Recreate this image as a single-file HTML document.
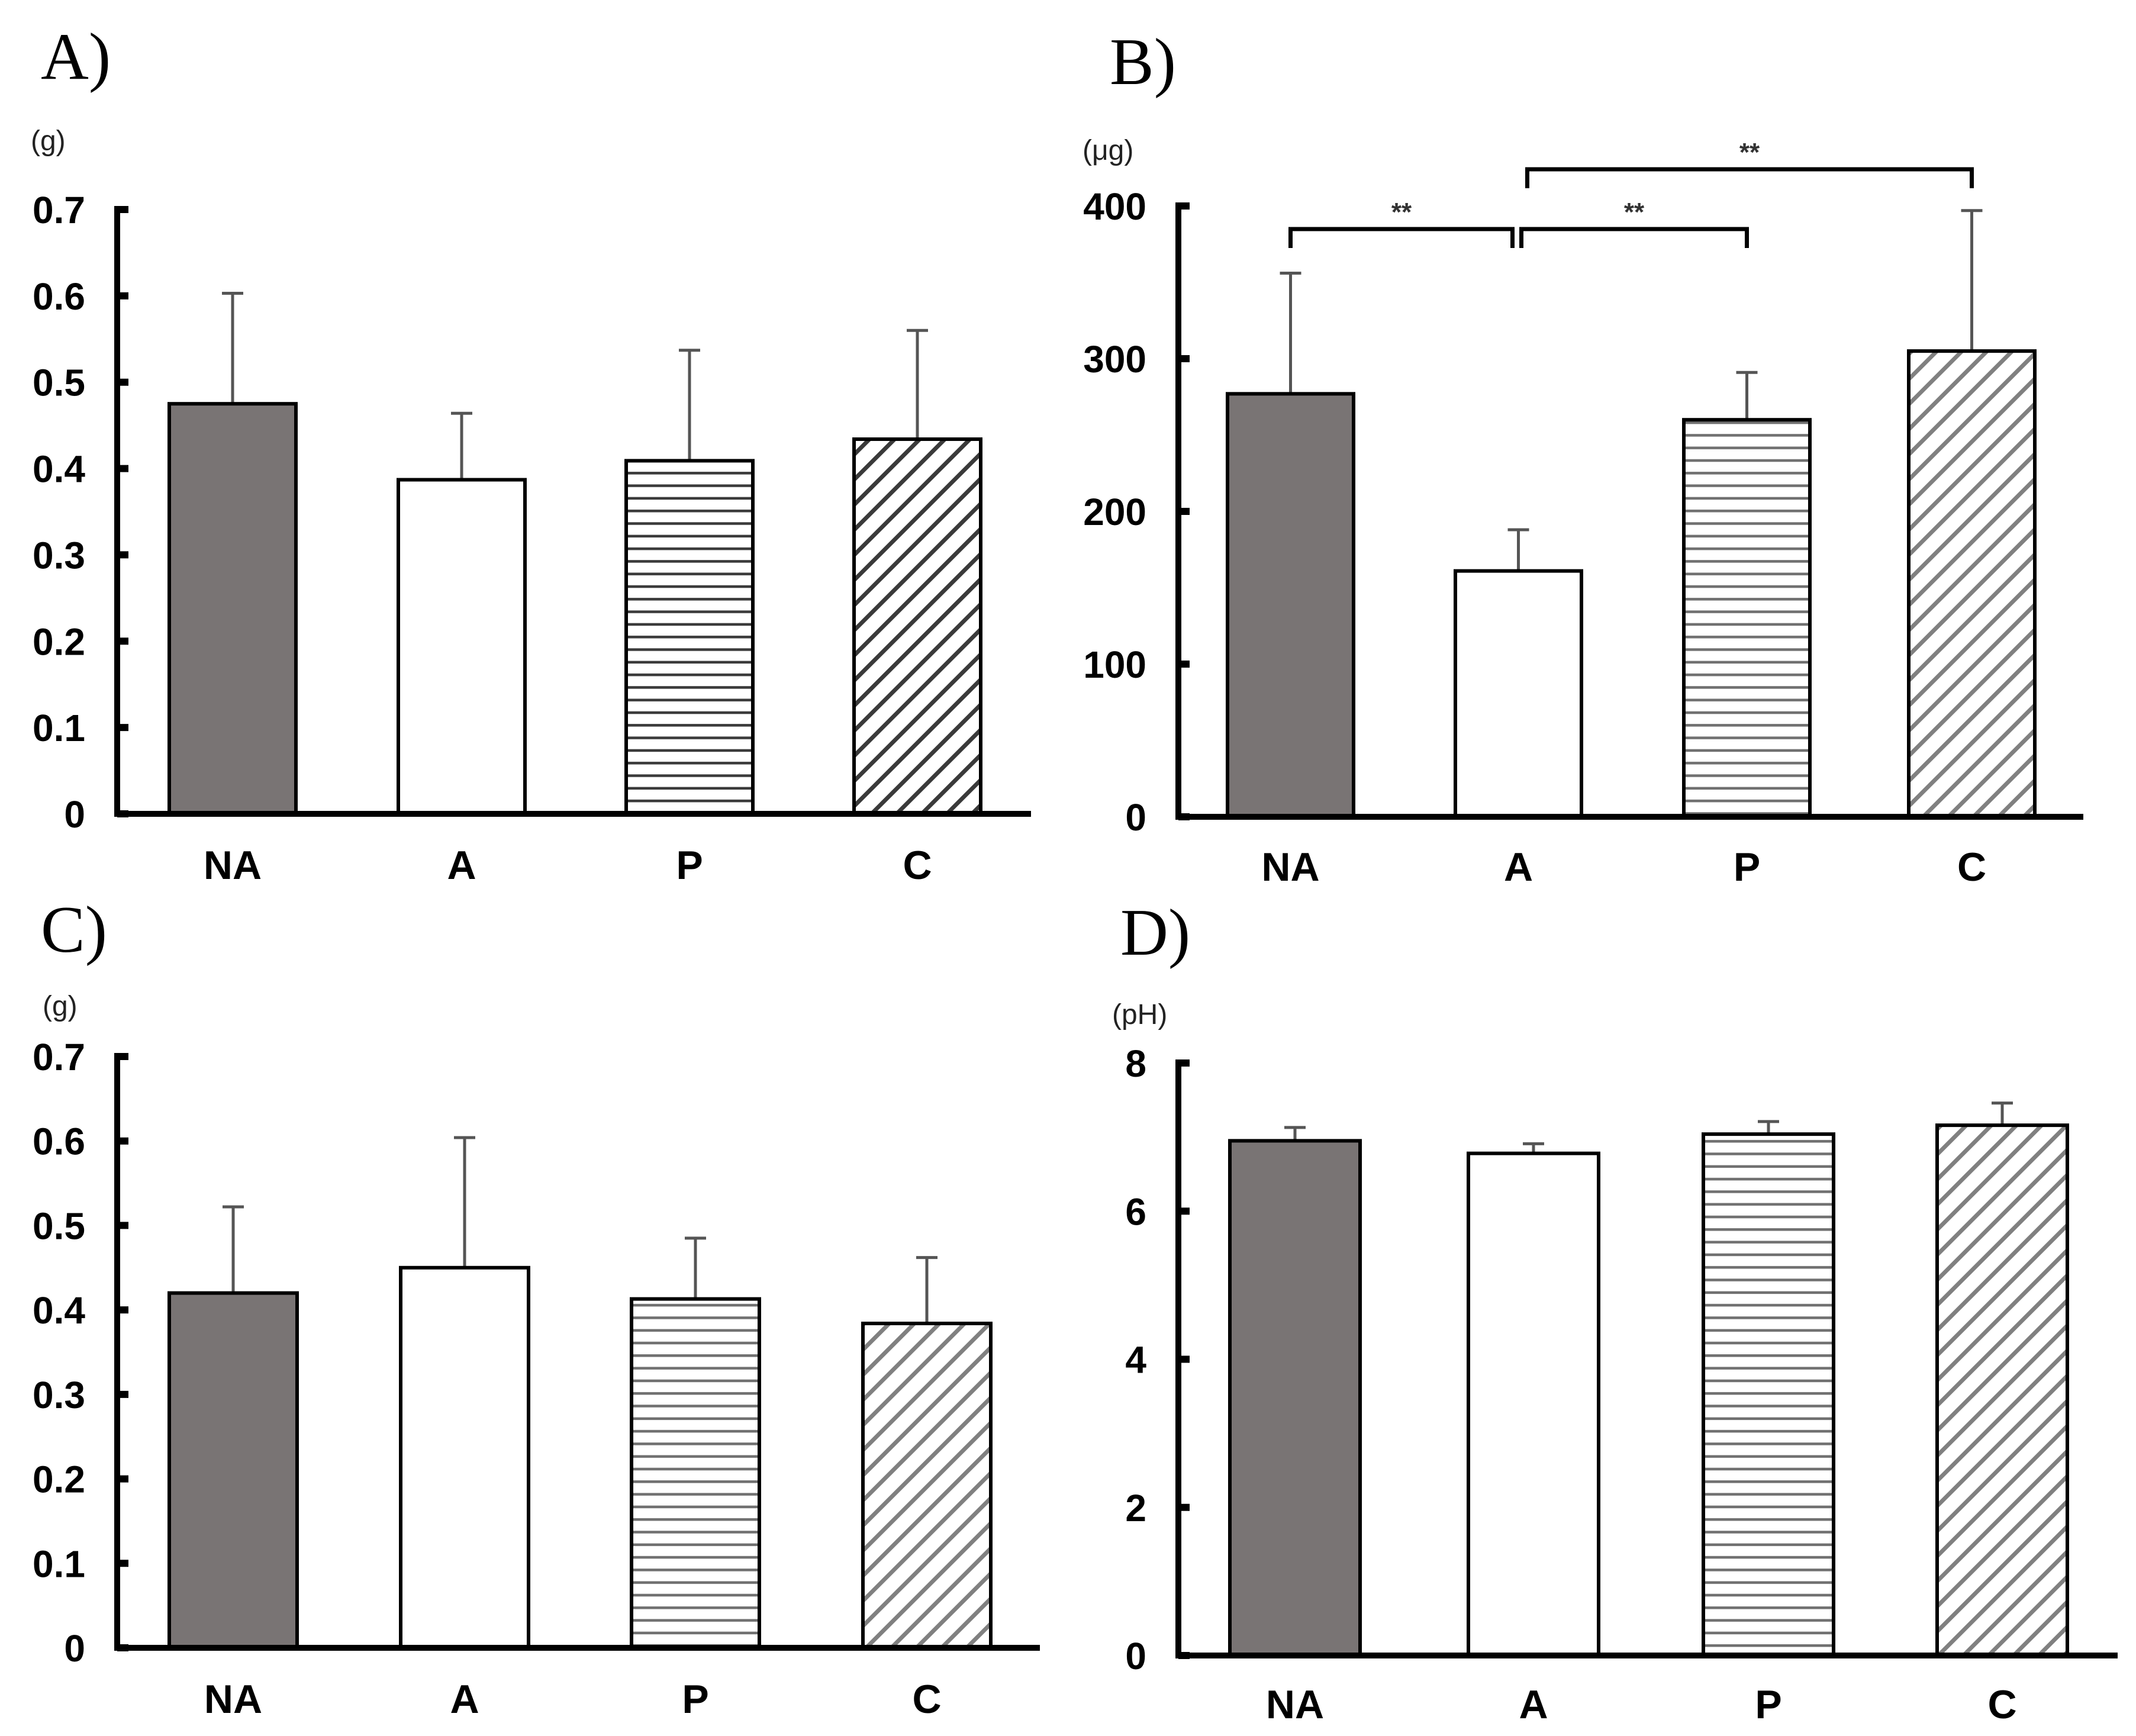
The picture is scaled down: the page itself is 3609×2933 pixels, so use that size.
<!DOCTYPE html>
<html><head><meta charset="utf-8">
<style>
html,body{margin:0;padding:0;background:#fff;}
svg{display:block;}
text{font-family:"Liberation Sans","Noto Sans CJK JP",sans-serif;}
</style></head>
<body>
<svg id="fig" xmlns="http://www.w3.org/2000/svg" width="3609" height="2933" viewBox="0 0 3609 2933">
<defs>
<pattern id="hA" patternUnits="userSpaceOnUse" width="40" height="21.3"><rect x="0" y="9" width="40" height="4.5" fill="#3a3a3a"/></pattern>
<pattern id="hG" patternUnits="userSpaceOnUse" width="40" height="21.3"><rect x="0" y="9" width="40" height="4.5" fill="#707070"/></pattern>
<pattern id="dA" patternUnits="userSpaceOnUse" width="30" height="30" patternTransform="rotate(45)"><rect x="0" y="0" width="7" height="30" fill="#3a3a3a"/></pattern>
<pattern id="dG" patternUnits="userSpaceOnUse" width="30" height="30" patternTransform="rotate(45)"><rect x="0" y="0" width="7" height="30" fill="#808080"/></pattern>
</defs>
</svg>
<script>
const categories = ["NA","A","P","C"];
const valuesA = [0.475, 0.387, 0.409, 0.434];
const errTopA = [0.603, 0.464, 0.537, 0.560];
const ticksA = [0,0.1,0.2,0.3,0.4,0.5,0.6,0.7];
const tickLabelsA = ["0","0.1","0.2","0.3","0.4","0.5","0.6","0.7"];
const valuesB = [277, 161, 260, 305];
const errTopB = [356, 188, 291, 397];
const ticksB = [0,100,200,300,400];
const tickLabelsB = ["0","100","200","300","400"];
const valuesC = [0.420, 0.450, 0.413, 0.384];
const errTopC = [0.522, 0.604, 0.485, 0.462];
const ticksC = [0,0.1,0.2,0.3,0.4,0.5,0.6,0.7];
const tickLabelsC = ["0","0.1","0.2","0.3","0.4","0.5","0.6","0.7"];
const valuesD = [6.95, 6.78, 7.04, 7.16];
const errTopD = [7.13, 6.91, 7.21, 7.46];
const ticksD = [0,2,4,6,8];
const tickLabelsD = ["0","2","4","6","8"];
const sigPairsB = [[0,1],[1,2],[1,3]];
const sigLabelsB = ["**","**","**"];

const NS="http://www.w3.org/2000/svg";
const svg=document.getElementById('fig');
function mk(tag,attrs,parent){const e=document.createElementNS(NS,tag);for(const k in attrs)e.setAttribute(k,attrs[k]);(parent||svg).appendChild(e);return e;}

const panels=[
 {id:'a',title:'A)',unit:'(g)',vals:valuesA,errs:errTopA,ticks:ticksA,tl:tickLabelsA,max:0.7,
  ax:198,top:354,zero:1375,xend:1742,bars:[286,673,1058,1443],bw:214,fills:['#797474','#fff','url(#hA)','url(#dA)'],
  tx:69,ty:133,ux:52,uy:254,ly:1485},
 {id:'b',title:'B)',unit:'(μg)',vals:valuesB,errs:errTopB,ticks:ticksB,tl:tickLabelsB,max:400,
  ax:1991,top:348,zero:1380,xend:3520,bars:[2074,2459,2845,3225],bw:213,fills:['#797474','#fff','url(#hG)','url(#dG)'],
  tx:1875,ty:142,ux:1829,uy:270,ly:1488},
 {id:'c',title:'C)',unit:'(g)',vals:valuesC,errs:errTopC,ticks:ticksC,tl:tickLabelsC,max:0.7,
  ax:198,top:1785,zero:2784,xend:1757,bars:[286,677,1067,1458],bw:216,fills:['#797474','#fff','url(#hG)','url(#dG)'],
  tx:69,ty:1608,ux:72,uy:1716,ly:2894},
 {id:'d',title:'D)',unit:'(pH)',vals:valuesD,errs:errTopD,ticks:ticksD,tl:tickLabelsD,max:8,
  ax:1991,top:1796,zero:2797,xend:3578,bars:[2078,2481,2878,3273],bw:220,fills:['#797474','#fff','url(#hG)','url(#dG)'],
  tx:1893,ty:1613,ux:1879,uy:1730,ly:2903}
];

panels.forEach(p=>{
  const g=mk('g',{});
  
  
  const y=v=>p.zero-(v/p.max)*(p.zero-p.top);
  const t=mk('text',{x:p.tx,y:p.ty,'font-size':112,fill:'#000',style:'font-family:"Liberation Serif",serif'},g);
  t.textContent=p.title;
  
  
  const u=mk('text',{x:p.ux,y:p.uy,'font-size':48,fill:'#222'},g);
  u.textContent=p.unit;
  
  
  p.vals.forEach((v,i)=>{
    const x=p.bars[i], cx=x+p.bw/2;
    const eb=mk('line',{x1:cx,x2:cx,y1:y(v),y2:y(p.errs[i]),stroke:'#555','stroke-width':5},g);
    
    
    const cap=mk('line',{x1:cx-18,x2:cx+18,y1:y(p.errs[i]),y2:y(p.errs[i]),stroke:'#555','stroke-width':5},g);
    
    
    const r=mk('rect',{x:x,y:y(v),width:p.bw,height:p.zero-y(v),fill:p.fills[i],stroke:'#000','stroke-width':6},g);
    
    
    const lb=mk('text',{x:cx,y:p.ly,'font-size':68,'font-weight':'bold','text-anchor':'middle',fill:'#000'},g);
    lb.textContent=categories[i];
    
    
  });
  p.ticks.forEach((tv,i)=>{
    const ty=y(tv);
    const tk=mk('line',{x1:p.ax,x2:p.ax+19,y1:ty,y2:ty,stroke:'#000','stroke-width':12},g);
    
    
    const tl=mk('text',{x:p.ax-54,y:ty+23,'font-size':64,'font-weight':'bold','text-anchor':'end',fill:'#000'},g);
    tl.textContent=p.tl[i];
    
    
  });
  const ya=mk('line',{x1:p.ax,x2:p.ax,y1:p.top-6,y2:p.zero+5,stroke:'#000','stroke-width':10},g);
  
  
  const xa=mk('line',{x1:p.ax-5,x2:p.xend,y1:p.zero,y2:p.zero,stroke:'#000','stroke-width':10},g);
  
  
});

const pb=panels[1];
const bracketY=[387,387,286];
sigPairsB.forEach((pr,k)=>{
  const cxs=pr.map(i=>pb.bars[i]+pb.bw/2);
  let x1=cxs[0], x2=cxs[1];
  if(k===0) x2-=10;
  if(k===1) x1+=5;
  if(k===2) x1+=15;
  const by=bracketY[k];
  const br=mk('path',{d:`M${x1},${by+32} V${by} H${x2} V${by+32}`,fill:'none',stroke:'#000','stroke-width':7});
  
  
  const st=mk('text',{x:(x1+x2)/2,y:by-14,'font-size':44,'font-weight':'bold','text-anchor':'middle',fill:'#333'});
  st.textContent=sigLabelsB[k];
  
  
});
</script>
</body></html>
